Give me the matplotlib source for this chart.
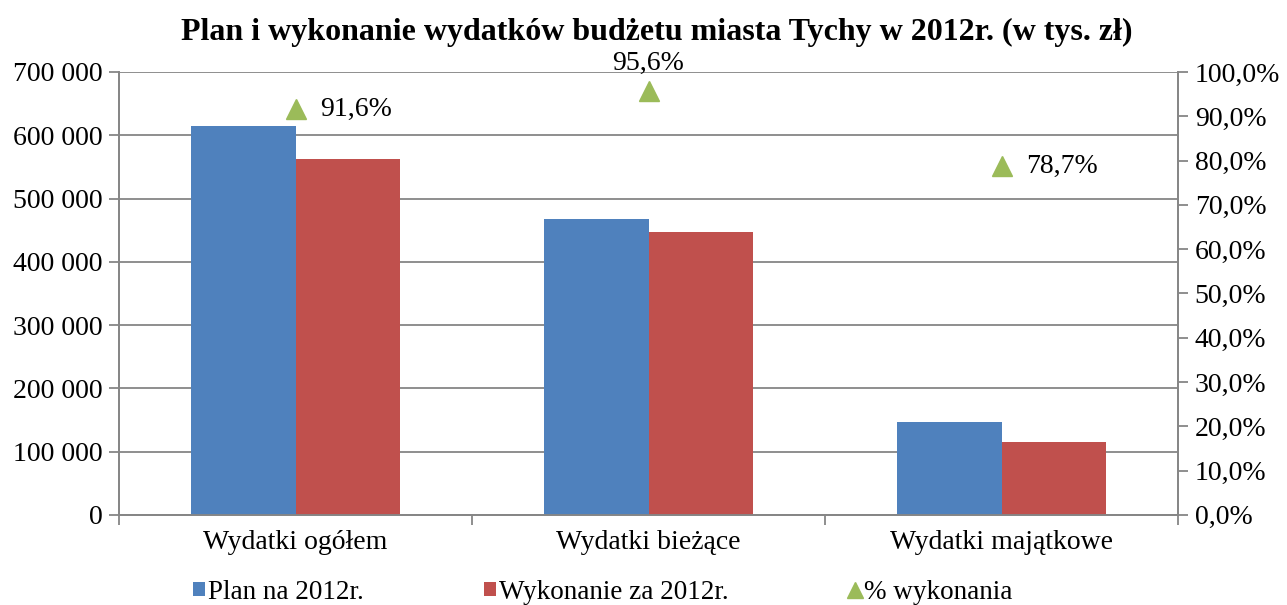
import matplotlib.pyplot as plt
import numpy as np
from matplotlib.ticker import FuncFormatter, MultipleLocator

# %% Data
categories = ["Wydatki ogółem", "Wydatki bieżące", "Wydatki majątkowe"]
plan = [614000, 467500, 147000]
wykonanie = [562300, 447000, 115700]
procent = [91.6, 95.6, 78.7]

# %% Style
BLUE = "#4f81bd"
RED = "#c0504d"
GREEN = "#9bbb59"
GRAY = "#868686"

plt.rcParams.update(
    {
        "font.family": "Liberation Serif",
        "font.size": 20,
    }
)


def fmt_left(v, pos):
    return f"{int(v):,}".replace(",", " ")


def fmt_pct(v, pos=None):
    return f"{v:.1f}%".replace(".", ",")


fig = plt.figure(figsize=(12.87, 6.05), dpi=100)
ax = fig.add_axes([0.0925, 0.149, 0.8228, 0.732])
ax2 = ax.twinx()

x = np.arange(len(categories))
w = 0.295
ax.bar(x - w / 2, plan, width=w, color=BLUE, label="Plan na 2012r.", zorder=3)
ax.bar(x + w / 2, wykonanie, width=w, color=RED, label="Wykonanie za 2012r.", zorder=3)

ax.set_xlim(-0.5, len(categories) - 0.5)
ax.set_ylim(0, 700000)
ax.yaxis.set_major_locator(MultipleLocator(100000))
ax.yaxis.set_major_formatter(FuncFormatter(fmt_left))
ax.grid(True, axis="y", color=GRAY, linewidth=1.3, zorder=0)
ax.set_axisbelow(True)

ax.set_xticks(x)
ax.set_xticklabels(categories)
ax.set_xticks(np.arange(len(categories) + 1) - 0.5, minor=True)
ax.tick_params(axis="x", which="major", length=0, pad=11)
ax.tick_params(axis="x", which="minor", length=7, color=GRAY, width=1.3, direction="out")
ax.tick_params(axis="y", length=7, color=GRAY, width=1.3, pad=5)

ax2.set_ylim(0, 100)
ax2.yaxis.set_major_locator(MultipleLocator(10))
ax2.yaxis.set_major_formatter(FuncFormatter(fmt_pct))
ax2.tick_params(axis="y", length=7, color=GRAY, width=1.3, pad=5)
ax2.plot(x, procent, linestyle="none", marker="^", markersize=14, color=GREEN,
         label="% wykonania", zorder=4)

# data labels
ax2.annotate(fmt_pct(procent[0]), (x[0], procent[0]),
             xytext=(18, 0), textcoords="offset points", va="center", ha="left", fontsize=20)
ax2.annotate(fmt_pct(procent[1]), (x[1], procent[1]),
             xytext=(0, 11), textcoords="offset points", va="bottom", ha="center", fontsize=20)
ax2.annotate(fmt_pct(procent[2]), (x[2], procent[2]),
             xytext=(18, 0), textcoords="offset points", va="center", ha="left", fontsize=20)

for a in (ax, ax2):
    a.spines["top"].set_visible(False)
    for s in ("left", "right", "bottom"):
        a.spines[s].set_color(GRAY)
        a.spines[s].set_linewidth(1.3)

fig.suptitle("Plan i wykonanie wydatków budżetu miasta Tychy w 2012r. (w tys. zł)",
             fontsize=23, fontweight="bold", x=0.51, y=0.97)

h1, l1 = ax.get_legend_handles_labels()
h2, l2 = ax2.get_legend_handles_labels()
fig.legend(h1 + h2, l1 + l2, loc="lower left", bbox_to_anchor=(0.131, -0.04),
           ncol=3, frameon=False, fontsize=19.5, handlelength=0.45, handleheight=0.45,
           handletextpad=0.1, columnspacing=4.45, markerscale=0.8)

fig.savefig("out.png", dpi=100)
